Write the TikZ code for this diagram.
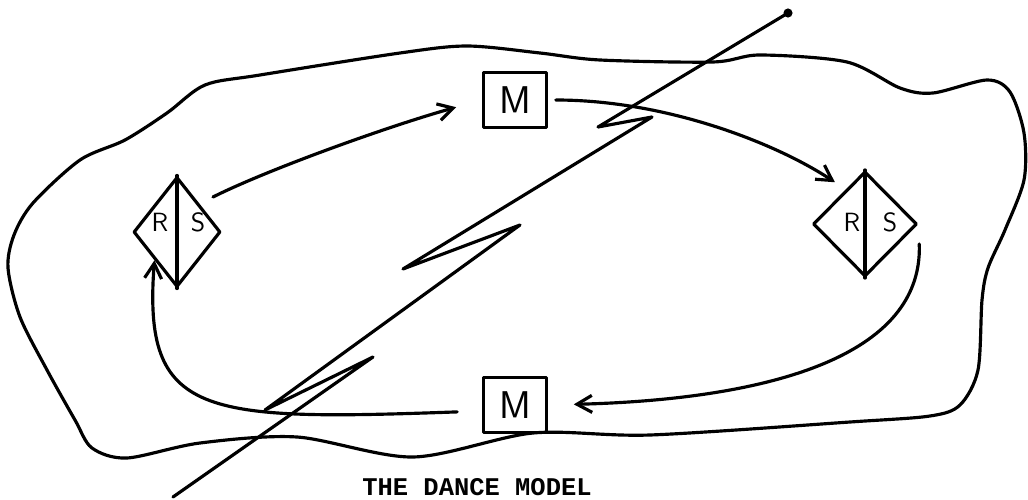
\documentclass[tikz,border=0pt]{standalone}
\usepackage{fontspec}
\setmonofont{Liberation Mono}
\usetikzlibrary{positioning}
\usetikzlibrary{arrows.meta,shapes.geometric}

\begin{document}
\begin{tikzpicture}[
    x=0.02cm, y=-0.02cm,
    line width=1.8pt, line cap=round, line join=round,
    mbox/.style={draw, rectangle, minimum width=1.25cm, minimum height=1.1cm, font=\sffamily\fontsize{22}{22}\selectfont},
    kite/.style={draw, diamond, inner sep=0pt},
    half/.style={inner sep=0pt, font=\sffamily\fontsize{15}{15}\selectfont},
    >={Straight Barb[length=0.3cm,width=0.34cm]}
]
\useasboundingbox (0,0) rectangle (1028,500);

% outer boundary
\draw plot[smooth cycle] coordinates {
    (33,203) (80,160) (125,140) (167,113) (205,85) (260,75) (400,53)
    (467,46) (540,53) (600,60) (713,62) (760,55) (847,62) (900,88)
    (933,93) (987,80) (1010,92) (1024,133) (1024,180) (1005,230)
    (988,268) (982,300) (978,370) (960,405) (930,416) (850,422)
    (650,435) (533,433) (413,457) (297,437) (200,443) (127,458)
    (92,448) (75,420) (47,370) (20,317) (8,268) (14,235)};

% cut line
\draw (788,13) -- (598,127) -- (652,117) -- (403,269) -- (520,225)
    -- (265,410) -- (373,357) -- (173,497);
\fill (788,13) circle (2.6pt);

% messages
\node[mbox] (Mtop) at (515,100) {M};
\node[mbox] (Mbot) at (515,405) {M};

% left kite
\node[kite, minimum width=1.74cm, minimum height=2.2cm] (RSl) at (177,232) {};
\draw (RSl.north) -- (RSl.south);
\node[half] (Rl) at ([shift={(-17,-10)}]RSl.center) {R};
\node[half] (Sl) at ([shift={(21,-10)}]RSl.center) {S};

% right kite
\node[kite, minimum width=2.08cm, minimum height=2.1cm] (RSr) at (865,224) {};
\draw (RSr.north) -- (RSr.south);
\node[half] (Rr) at ([shift={(-13,-2)}]RSr.center) {R};
\node[half] (Sr) at ([shift={(25,-2)}]RSr.center) {S};

% the dance
\draw[->, shorten <=0.3cm, shorten >=0.54cm] (RSl.north east)
    .. controls +(70,-35) and +(-90,25) .. (Mtop.west);
\draw[->, shorten <=0.16cm, shorten >=0.08cm] (Mtop.east)
    .. controls +(120,0) and +(-60,-40) .. ([yshift=0.25cm]RSr.north west);
\draw[->, shorten <=0.4cm, shorten >=0.52cm] (RSr.east)
    .. controls +(5,140) and +(200,-5) .. (Mbot.east);
\draw[->, shorten <=0.5cm] ([yshift=-0.12cm]Mbot.west)
    .. controls +(-280,10) and +(-12,157) .. (RSl.south west);

\node[font=\ttfamily\bfseries\fontsize{14.5}{14.5}\selectfont] (title) at (477,487) {THE DANCE MODEL};

\end{tikzpicture}
\end{document}
